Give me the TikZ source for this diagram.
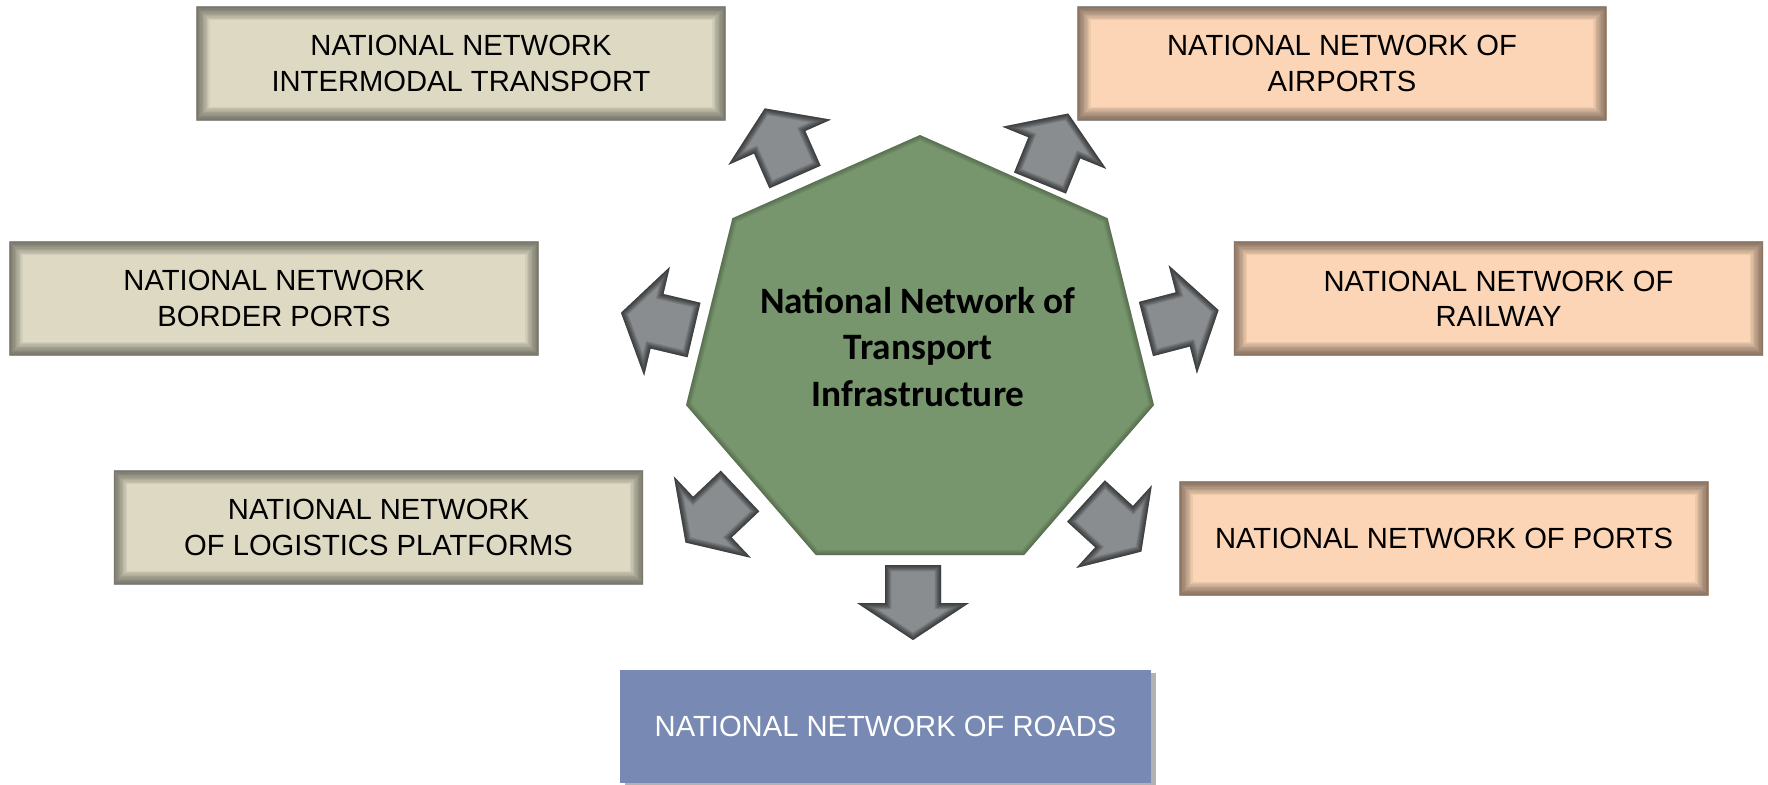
\documentclass[tikz,border=0pt]{standalone}
\usepackage{fontspec}
\setmainfont{Liberation Sans}
\newfontfamily\hubfont{Carlito}
\usepackage{tikz}
\usetikzlibrary{shadows}
\definecolor{tanfill}{RGB}{221,217,195}
\definecolor{peachfill}{RGB}{251,213,181}
\definecolor{roadfill}{RGB}{120,138,179}
\definecolor{hubgreen}{RGB}{119,150,109}
\definecolor{arrowgray}{RGB}{137,141,143}
\newcommand{\boxfont}{\fontsize{8.3}{10}\selectfont}
\newcommand{\arrowpath}{(0,-28) -- (38,-28) -- (38,-56) -- (75,0) -- (38,56) -- (38,28) -- (0,28) -- cycle}
\newcommand{\heptpath}{(hubc) +(-90:240 and 221) \foreach \k in {1,...,6} {-- +({-90+\k*360/7}:240 and 221)} -- cycle}
\tikzstyle{netbox}=[inner sep=0, outer sep=0, minimum width=5.29cm, minimum height=1.13cm,
                    align=center, font=\boxfont,
                    % darker rim along the inside of the box
                    path picture={\foreach \i [evaluate=\i as \w using \i*0.75] in {1,...,10}
                      \draw[black, line width=\w pt, opacity=.055] (path picture bounding box.south west) rectangle (path picture bounding box.north east);}]
\tikzstyle{tanbox}=[netbox, fill=tanfill]
\tikzstyle{peachbox}=[netbox, fill=peachfill]
\tikzstyle{roadbox}=[inner sep=0, outer sep=0, minimum width=5.31cm, minimum height=1.13cm,
                     font=\boxfont, text=white, fill=roadfill,
                     drop shadow={shadow xshift=1.5pt, shadow yshift=-1pt, opacity=.3, fill=black}]
\tikzstyle{hubtext}=[align=center, font=\hubfont\bfseries\fontsize{10.6}{13.2}\selectfont]
\tikzset{bigarrow/.pic={
    \fill[arrowgray] \arrowpath;
    \begin{scope}
      \clip \arrowpath;
      \foreach \i [evaluate=\i as \w using \i*0.45] in {1,...,8}
        \draw[black, line width=\w pt, opacity=.09, line join=miter] \arrowpath;
    \end{scope}
  }}

\begin{document}
\begin{tikzpicture}[x=0.01cm, y=-0.01cm]
    \useasboundingbox (0,0) rectangle (1768,784);
    \coordinate (hubc) at (920,356);
    % central heptagon
    \fill[hubgreen] \heptpath;
    \begin{scope}
        \clip \heptpath;
        \foreach \i [evaluate=\i as \w using \i*0.6] in {1,...,5}
            \draw[black, line width=\w pt, opacity=.05] \heptpath;
    \end{scope}
    \node[hubtext] (hub) at (918,347) {National Network of\\Transport\\Infrastructure};
    % block arrows, placed by the middle of their tail
    \pic[rotate=113.8] at (795,177) {bigarrow};
    \pic[rotate=67.9]  at (1040,183) {bigarrow};
    \pic[rotate=166.7] at (694,330) {bigarrow};
    \pic[rotate=14.6]  at (1146,329) {bigarrow};
    \pic[rotate=223.4] at (740,491) {bigarrow};
    \pic[rotate=317.6] at (1086,501) {bigarrow};
    \pic[rotate=270]   at (913,565) {bigarrow};
    % boxes
    \node[tanbox]   (intermodal) at (461,63.5)    {NATIONAL NETWORK\\INTERMODAL TRANSPORT};
    \node[tanbox]   (border)     at (274,298.5)   {NATIONAL NETWORK\\BORDER PORTS};
    \node[tanbox]   (logistics)  at (378.5,527.5) {NATIONAL NETWORK\\OF LOGISTICS PLATFORMS};
    \node[peachbox] (airports)   at (1342,63.5)   {NATIONAL NETWORK OF\\AIRPORTS};
    \node[peachbox] (railway)    at (1498.5,298.5) {NATIONAL NETWORK OF\\RAILWAY};
    \node[peachbox] (ports)      at (1444,538.5)  {NATIONAL NETWORK OF PORTS};
    \node[roadbox]  (roads)      at (885.5,726.5) {NATIONAL NETWORK OF ROADS};
\end{tikzpicture}
\end{document}
